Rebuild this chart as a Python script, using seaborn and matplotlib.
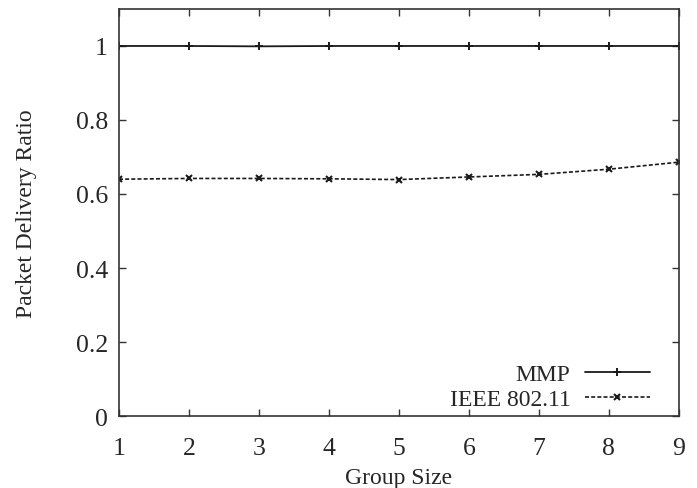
import numpy as np
import pandas as pd
import matplotlib
matplotlib.use("Agg")
import matplotlib.pyplot as plt
import seaborn as sns

group_size = [1, 2, 3, 4, 5, 6, 7, 8, 9]
mmp = [1.0, 1.0, 0.999, 1.0, 1.0, 1.0, 1.0, 1.0, 1.0]
ieee = [0.640, 0.642, 0.642, 0.641, 0.639, 0.646, 0.653, 0.667, 0.686]

sns.set_style("ticks")
plt.rcParams["font.family"] = ["Liberation Serif", "DejaVu Serif"]
plt.rcParams["font.size"] = 17

fig = plt.figure(figsize=(6.97, 4.89), dpi=100)
ax = fig.add_axes([0.1707, 0.1472, 0.8033, 0.8324])

line_col = "#1a1a1a"
sns.lineplot(x=group_size, y=mmp, ax=ax, color=line_col, linewidth=1.3,
             linestyle="-", marker="+", markersize=6, markeredgewidth=1.4,
             markeredgecolor=line_col, label="MMP")
sns.lineplot(x=group_size, y=ieee, ax=ax, color=line_col, linewidth=1.2,
             linestyle=(0, (2.4, 1.3)), marker="x", markersize=5,
             markeredgewidth=1.5, markeredgecolor=line_col, label="IEEE 802.11")

ax.set_xlim(1, 9)
ax.set_ylim(0, 1.1)
ax.set_xticks(range(1, 10))
ax.set_yticks([0, 0.2, 0.4, 0.6, 0.8, 1.0])
ax.set_yticklabels(["0", "0.2", "0.4", "0.6", "0.8", "1"])
ax.tick_params(direction="in", top=True, right=True, length=5, width=1,
               color="#333333", labelsize=18.5)
ax.tick_params(axis="x", pad=15)
ax.tick_params(axis="y", pad=8)
for s in ax.spines.values():
    s.set_visible(True)
    s.set_color("#333333")
    s.set_linewidth(1.2)

ax.set_xlabel("Group Size", fontsize=17, labelpad=6)
ax.set_ylabel("Packet Delivery Ratio", fontsize=17, labelpad=28)

leg = ax.legend(loc="lower right", bbox_to_anchor=(0.9857, -0.038),
                frameon=False, markerfirst=False,
                handlelength=2.75, fontsize=17, labelspacing=0.15,
                borderaxespad=0.5, handletextpad=0.6)

fig.savefig("out.png", dpi=100)
